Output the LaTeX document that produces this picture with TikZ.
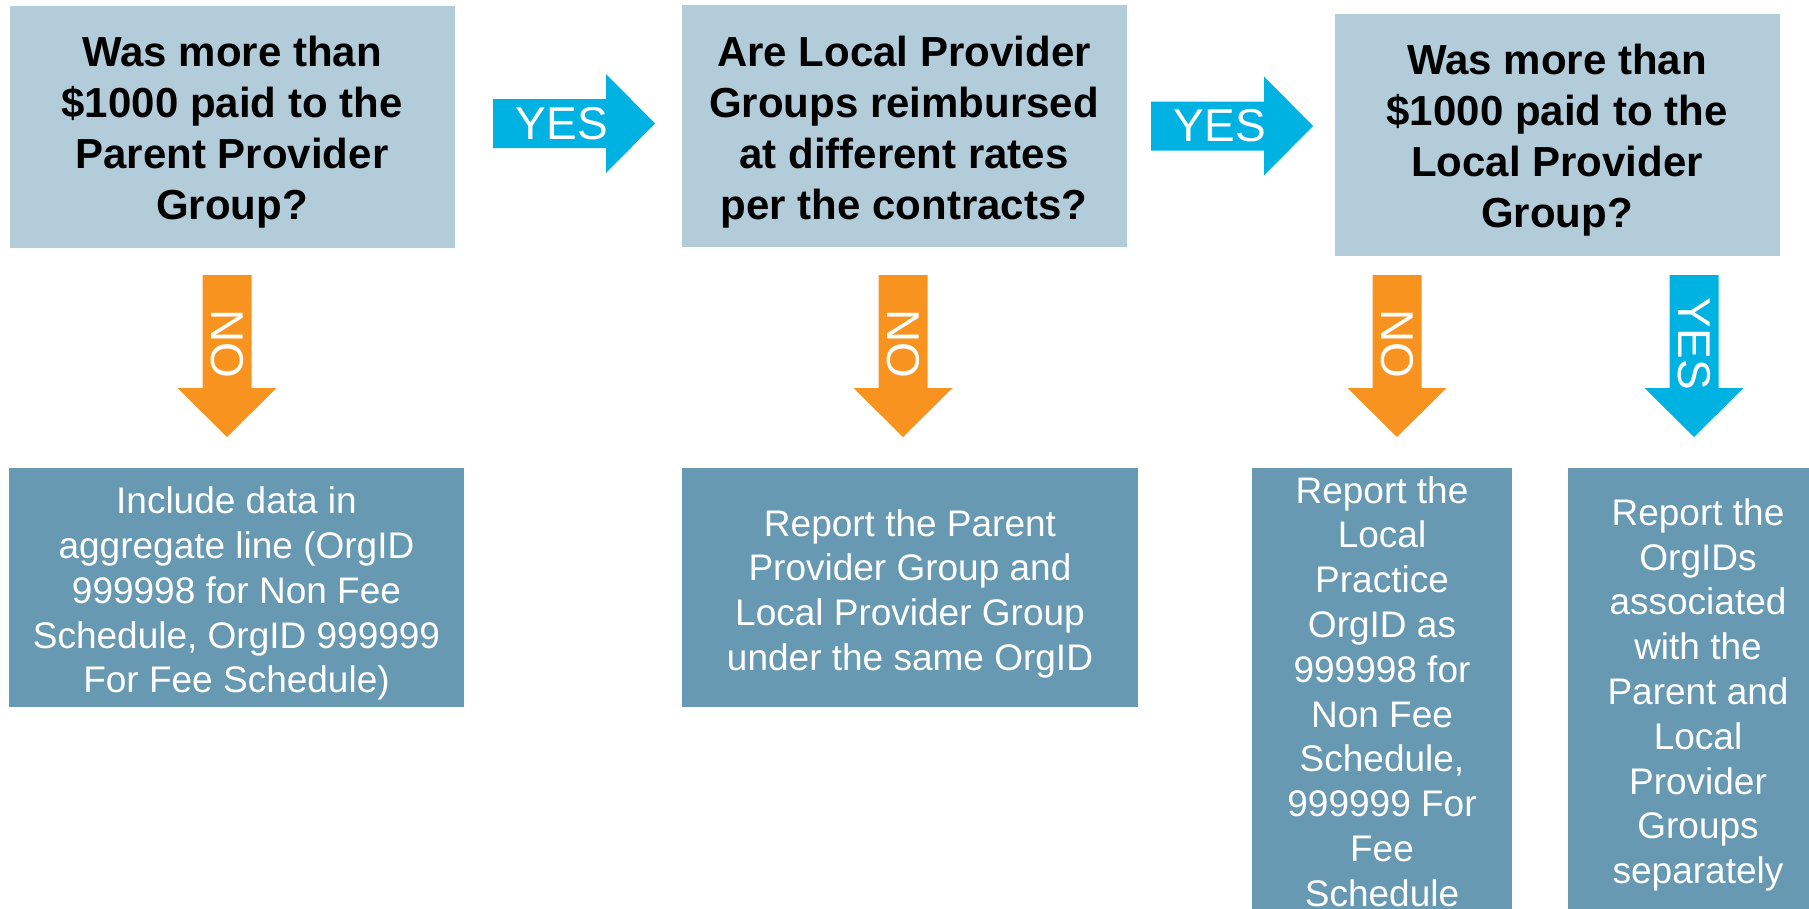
\documentclass[tikz,border=0pt]{standalone}
\usepackage{fontspec}
\setmainfont{Liberation Sans}
\definecolor{qfill}{HTML}{B3CCD9}
\definecolor{afill}{HTML}{6799B2}
\definecolor{noorange}{HTML}{F7931E}
\definecolor{yescyan}{HTML}{00B2E2}
\tikzset{
  qbox/.style={fill=qfill, inner sep=0pt, minimum width=445pt, minimum height=242pt},
  qtext/.style={inner sep=0pt, align=center, font=\fontsize{42}{51}\selectfont\bfseries},
  abox/.style={fill=afill, inner sep=0pt},
  atext/.style={text=white, inner sep=0pt, align=center, font=\fontsize{37}{44.8}\selectfont},
  pics/flowarrow/.style={code={
    \fill[pic actions] (0,-24.5) -- (113,-24.5) -- (113,-49.5) -- (162,0) -- (113,49.5) -- (113,24.5) -- (0,24.5) -- cycle;
    \node[text=white, inner sep=0pt, font=\fontsize{46}{46}\selectfont, transform shape] (-label) at (69,0) {#1};
  }},
}
\begin{document}
\begin{tikzpicture}[x=1pt, y=-1pt]
  \useasboundingbox (0,0) rectangle (1809,908);
  \clip (0,0) rectangle (1809,908);
  % the three questions
  \node[qbox] (q1) at (232,127) {};
  \node[qbox] (q2) at (904,126) {};
  \node[qbox] (q3) at (1557,135) {};
  \node[qtext] (q1text) at ([yshift=-5pt]q1.center) {Was more than\\\$1000 paid to the\\Parent Provider\\Group?};
  \node[qtext] (q2text) at ([yshift=-6pt]q2.center) {Are Local Provider\\Groups reimbursed\\at different rates\\per the contracts?};
  \node[qtext] (q3text) at ([yshift=-5pt]q3.center) {Was more than\\\$1000 paid to the\\Local Provider\\Group?};
  % what to report
  \node[abox, minimum width=455pt, minimum height=239pt] (a1) at (236.5,587.5) {};
  \node[abox, minimum width=456pt, minimum height=239pt] (a2) at (910,587.5) {};
  \node[abox, minimum width=260pt, minimum height=446pt] (a3) at (1382,691) {};
  \node[abox, minimum width=260pt, minimum height=446pt] (a4) at (1698,691) {};
  \node[atext] (a1text) at ([yshift=-6.3pt]a1.center)
    {Include data in\\aggregate line (OrgID\\999998 for Non Fee\\Schedule, OrgID 999999\\For Fee Schedule)};
  \node[atext] (a2text) at ([yshift=-6.3pt]a2.center)
    {Report the Parent\\Provider Group and\\Local Provider Group\\under the same OrgID};
  \node[atext] (a3text) at ([yshift=-0.5pt]a3.center)
    {Report the\\Local\\Practice\\OrgID as\\999998 for\\Non Fee\\Schedule,\\999999 For\\Fee\\Schedule};
  \node[atext] (a4text) at ([yshift=-4pt]a4.center)
    {Report the\\OrgIDs\\associated\\with the\\Parent and\\Local\\Provider\\Groups\\separately};
  % yes/no arrows
  \pic[fill=yescyan] (yes1) at (493,123.5) {flowarrow=YES};
  \pic[fill=yescyan] (yes2) at (1151,126) {flowarrow=YES};
  \foreach \x/\col/\txt/\n in {227/noorange/NO/no1, 903/noorange/NO/no2, 1397/noorange/NO/no3, 1694/yescyan/YES/yes3}
    \pic[fill=\col, rotate=-90] (\n) at (\x,275) {flowarrow=\txt};
\end{tikzpicture}
\end{document}
